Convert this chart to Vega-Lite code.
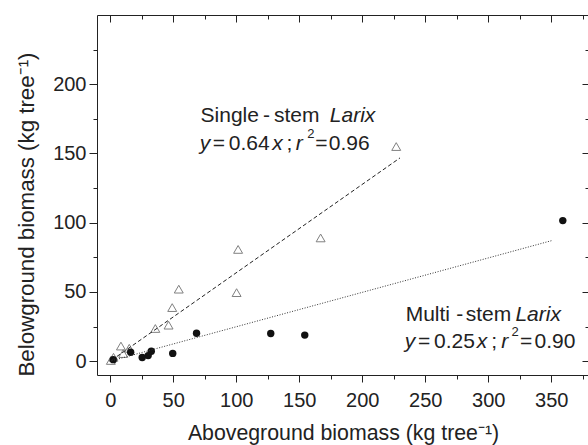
{
  "$schema": "https://vega.github.io/schema/vega-lite/v6.json",
  "width": 492,
  "height": 360,
  "autosize": {"type": "none"},
  "padding": {"left": 97, "top": 15, "right": 0, "bottom": 70},
  "background": "white",
  "config": {
    "view": {"stroke": "#222", "strokeWidth": 1},
    "axis": {
      "domain": false, "grid": false,
      "labelFont": "Liberation Sans", "labelFontSize": 20, "labelColor": "#222",
      "titleFont": "Liberation Sans", "titleFontSize": 21.3, "titleFontWeight": "normal", "titleColor": "#222",
      "tickColor": "#222", "tickWidth": 1
    }
  },
  "datasets": {
    "single": [
      {"above": 227, "below": 155},
      {"above": 167, "below": 89},
      {"above": 101.5, "below": 80.7},
      {"above": 100.3, "below": 49.5},
      {"above": 54.4, "below": 52},
      {"above": 49.2, "below": 38.7},
      {"above": 46.3, "below": 26},
      {"above": 35.8, "below": 23.6},
      {"above": 8.5, "below": 10.9},
      {"above": 15.1, "below": 9.3},
      {"above": 10.3, "below": 5.5},
      {"above": 2.6, "below": 2.8},
      {"above": 0.5, "below": 0.5}
    ],
    "multi": [
      {"above": 359.2, "below": 101.5},
      {"above": 68.5, "below": 20.1},
      {"above": 127.4, "below": 20},
      {"above": 154.4, "below": 18.8},
      {"above": 16.2, "below": 6.4},
      {"above": 32.6, "below": 7.2},
      {"above": 30.1, "below": 4},
      {"above": 25.4, "below": 2.6},
      {"above": 49.6, "below": 5.6},
      {"above": 2.4, "below": 1.1}
    ],
    "fits": [
      {"series": "single", "above": 1, "below": 0.64},
      {"series": "single", "above": 230, "below": 146.8},
      {"series": "multi", "above": 1, "below": 0.25},
      {"series": "multi", "above": 351, "below": 87.2}
    ],
    "notes": [
      {"t": "Single", "x": 71.7, "y": 172.7, "k": "n"},
      {"t": "-", "x": 121.2, "y": 172.7, "k": "n"},
      {"t": "stem", "x": 130, "y": 172.7, "k": "n"},
      {"t": "Larix", "x": 174.3, "y": 172.7, "k": "i"},
      {"t": "y", "x": 71.1, "y": 152.7, "k": "i"},
      {"t": "=", "x": 81.3, "y": 152.7, "k": "n"},
      {"t": "0.64", "x": 94.1, "y": 152.7, "k": "n"},
      {"t": "x", "x": 128.5, "y": 152.7, "k": "i"},
      {"t": ";", "x": 139.9, "y": 152.7, "k": "n"},
      {"t": "r", "x": 147.3, "y": 152.7, "k": "i"},
      {"t": "2", "x": 156.3, "y": 152.7, "k": "s"},
      {"t": "=", "x": 162.8, "y": 152.7, "k": "n"},
      {"t": "0.96", "x": 173.4, "y": 152.7, "k": "n"},
      {"t": "Multi", "x": 234.5, "y": 28.9, "k": "n"},
      {"t": "-", "x": 274.6, "y": 28.9, "k": "n"},
      {"t": "stem", "x": 282.1, "y": 28.9, "k": "n"},
      {"t": "Larix", "x": 321.6, "y": 28.9, "k": "i"},
      {"t": "y", "x": 233.7, "y": 9.2, "k": "i"},
      {"t": "=", "x": 244.2, "y": 9.2, "k": "n"},
      {"t": "0.25", "x": 257, "y": 9.2, "k": "n"},
      {"t": "x", "x": 291, "y": 9.2, "k": "i"},
      {"t": ";", "x": 302.4, "y": 9.2, "k": "n"},
      {"t": "r", "x": 310.4, "y": 9.2, "k": "i"},
      {"t": "2", "x": 318.5, "y": 9.2, "k": "s"},
      {"t": "=", "x": 325.3, "y": 9.2, "k": "n"},
      {"t": "0.90", "x": 336.8, "y": 9.2, "k": "n"}
    ]
  },
  "resolve": {"axis": {"x": "independent", "y": "independent"}},
  "layer": [
    {
      "data": {"name": "single"},
      "mark": {"type": "point", "shape": "triangle-up", "filled": false, "stroke": "#808080", "strokeWidth": 1, "size": 80, "opacity": 1},
      "encoding": {
        "x": {
          "field": "above", "type": "quantitative",
          "scale": {"domain": [-10.5, 380], "nice": false, "zero": false},
          "axis": {
            "orient": "bottom",
            "title": "Aboveground biomass (kg tree⁻¹)",
            "values": [0, 25, 50, 75, 100, 125, 150, 175, 200, 225, 250, 275, 300, 325, 350, 375],
            "labelExpr": "datum.value % 50 === 0 ? datum.label : ''",
            "tickSize": {"condition": {"test": "datum.value % 50 === 0", "value": 7}, "value": 4},
            "labelPadding": 8,
            "labelFlush": false,
            "labelOverlap": false,
            "titlePadding": 12
          }
        },
        "y": {
          "field": "below", "type": "quantitative",
          "scale": {"domain": [-10, 250], "nice": false, "zero": false},
          "axis": {
            "orient": "left",
            "title": "Belowground biomass (kg tree⁻¹)",
            "titleFontSize": 22.3,
            "titleY": 199,
            "values": [0, 25, 50, 75, 100, 125, 150, 175, 200, 225],
            "labelExpr": "datum.value % 50 === 0 ? datum.label : ''",
            "tickSize": {"condition": {"test": "datum.value % 50 === 0", "value": 8}, "value": 4},
            "labelPadding": 3,
            "labelFlush": false,
            "labelOverlap": false,
            "titlePadding": 14
          }
        }
      }
    },
    {
      "data": {"name": "multi"},
      "mark": {"type": "circle", "color": "#111", "size": 55, "opacity": 1},
      "encoding": {
        "x": {
          "field": "above", "type": "quantitative",
          "scale": {"domain": [-10.5, 380], "nice": false, "zero": false},
          "axis": {
            "orient": "top", "title": null, "labels": false,
            "values": [0, 50, 100, 150, 200, 250, 300, 350],
            "tickSize": 7, "offset": -7
          }
        },
        "y": {
          "field": "below", "type": "quantitative",
          "scale": {"domain": [-10, 250], "nice": false, "zero": false},
          "axis": {
            "orient": "right", "title": null, "labels": false,
            "values": [0, 50, 100, 150, 200],
            "tickSize": 7, "offset": -7
          }
        }
      }
    },
    {
      "data": {"name": "fits"},
      "transform": [{"filter": "datum.series === 'single'"}],
      "mark": {"type": "line", "color": "#222", "strokeWidth": 1, "strokeDash": [4, 2.5]},
      "encoding": {
        "x": {
          "field": "above", "type": "quantitative", "scale": {"domain": [-10.5, 380], "nice": false, "zero": false},
          "axis": {
            "orient": "top", "title": null, "labels": false,
            "values": [25, 75, 125, 175, 225, 275, 325, 375],
            "tickSize": -4
          }
        },
        "y": {
          "field": "below", "type": "quantitative", "scale": {"domain": [-10, 250], "nice": false, "zero": false},
          "axis": {
            "orient": "right", "title": null, "labels": false,
            "values": [25, 75, 125, 175, 225],
            "tickSize": -4
          }
        }
      }
    },
    {
      "data": {"name": "fits"},
      "transform": [{"filter": "datum.series === 'multi'"}],
      "mark": {"type": "line", "color": "#333", "strokeWidth": 1, "strokeDash": [1, 1.6]},
      "encoding": {
        "x": {"field": "above", "type": "quantitative", "scale": {"domain": [-10.5, 380], "nice": false, "zero": false}, "axis": null},
        "y": {"field": "below", "type": "quantitative", "scale": {"domain": [-10, 250], "nice": false, "zero": false}, "axis": null}
      }
    },
    {
      "data": {"name": "notes"},
      "transform": [{"filter": "datum.k === 'n'"}],
      "mark": {"type": "text", "align": "left", "baseline": "alphabetic", "font": "Liberation Sans", "fontSize": 21, "color": "#222"},
      "encoding": {
        "x": {"field": "x", "type": "quantitative", "scale": {"domain": [-10.5, 380], "nice": false, "zero": false}, "axis": null},
        "y": {"field": "y", "type": "quantitative", "scale": {"domain": [-10, 250], "nice": false, "zero": false}, "axis": null},
        "text": {"field": "t"}
      }
    },
    {
      "data": {"name": "notes"},
      "transform": [{"filter": "datum.k === 'i'"}],
      "mark": {"type": "text", "align": "left", "baseline": "alphabetic", "font": "Liberation Sans", "fontStyle": "italic", "fontSize": 21, "color": "#222"},
      "encoding": {
        "x": {"field": "x", "type": "quantitative", "scale": {"domain": [-10.5, 380], "nice": false, "zero": false}, "axis": null},
        "y": {"field": "y", "type": "quantitative", "scale": {"domain": [-10, 250], "nice": false, "zero": false}, "axis": null},
        "text": {"field": "t"}
      }
    },
    {
      "data": {"name": "notes"},
      "transform": [{"filter": "datum.k === 's'"}],
      "mark": {"type": "text", "align": "left", "baseline": "alphabetic", "font": "Liberation Sans", "fontSize": 13, "dy": -12, "color": "#222"},
      "encoding": {
        "x": {"field": "x", "type": "quantitative", "scale": {"domain": [-10.5, 380], "nice": false, "zero": false}, "axis": null},
        "y": {"field": "y", "type": "quantitative", "scale": {"domain": [-10, 250], "nice": false, "zero": false}, "axis": null},
        "text": {"field": "t"}
      }
    }
  ]
}
